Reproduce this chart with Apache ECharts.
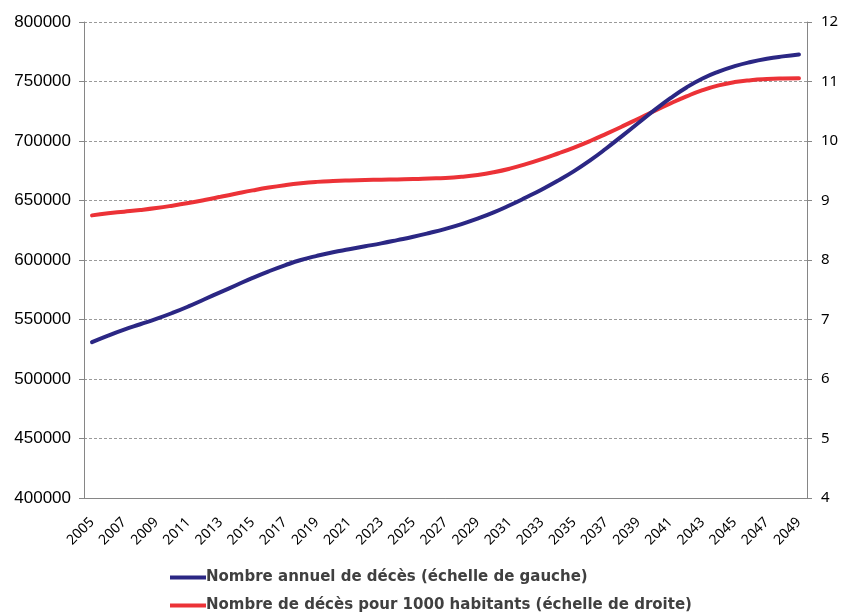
<!DOCTYPE html>
<html>
<head>
<meta charset="utf-8">
<script src="https://cdn.jsdelivr.net/npm/echarts@6/dist/echarts.min.js"></script>
<style>
  html, body { margin: 0; padding: 0; background: #fff; }
  #chart { width: 842px; height: 613px; }
</style>
</head>
<body>
<div id="chart"></div>
<script>
// Years 2005–2049
const years = [];
for (let y = 2005; y <= 2049; y++) years.push(String(y));

// Annual number of deaths (left scale)
const deaths = [
  531000, 536500, 541500, 546000, 550500, 555500, 561000, 567000, 573000, 579000,
  585000, 590500, 595500, 600000, 603500, 606500, 609000, 611500, 614000, 616700,
  619500, 622700, 626200, 630200, 634800, 640000, 646000, 652500, 659300, 666700,
  674700, 683700, 693700, 704300, 715100, 725900, 736000, 745000, 752500, 758300,
  762900, 766400, 769100, 771100, 772700
];

// Deaths per 1000 inhabitants (right scale)
const rate = [
  8.75, 8.785, 8.812, 8.84, 8.873, 8.913, 8.958, 9.008, 9.062, 9.117,
  9.17, 9.218, 9.258, 9.29, 9.313, 9.328, 9.338, 9.345, 9.35, 9.355,
  9.36, 9.37, 9.38, 9.40, 9.43, 9.475, 9.535, 9.61, 9.695, 9.79,
  9.89, 10.00, 10.12, 10.245, 10.375, 10.505, 10.63, 10.75, 10.855, 10.935,
  10.99, 11.022, 11.04, 11.05, 11.055
];

const seriesNames = [
  'Nombre annuel de décès (échelle de gauche)',
  'Nombre de décès pour 1000 habitants (échelle de droite)'
];

const blue = '#2B2784';
const red = '#EC3237';
const axisGrey = '#868686';

const legendText = {
  fontFamily: 'DejaVu Sans, sans-serif',
  fontWeight: 'bold',
  fontSize: 15,
  color: '#404040',
  padding: [0, 0, 0, -5]
};

function legendRow(name, top) {
  return {
    orient: 'horizontal',
    left: 165,
    top: top,
    itemWidth: 36,
    itemHeight: 4,
    icon: 'rect',
    textStyle: legendText,
    data: [name]
  };
}

const chart = echarts.init(document.getElementById('chart'), null, { renderer: 'canvas' });

chart.setOption({
  animation: false,
  backgroundColor: '#ffffff',
  grid: { left: 84, right: 35, top: 22, bottom: 115, containLabel: false },
  legend: [
    legendRow(seriesNames[0], 565),
    legendRow(seriesNames[1], 593)
  ],
  xAxis: {
    type: 'category',
    data: years,
    boundaryGap: true,
    axisLine: { lineStyle: { color: axisGrey, width: 1 } },
    axisTick: { interval: 1, length: 5, lineStyle: { color: axisGrey } },
    axisLabel: {
      interval: 1,
      rotate: 45,
      margin: 22,
      fontFamily: 'Noto Sans, sans-serif',
      fontSize: 14,
      color: '#000'
    },
    splitLine: { show: false }
  },
  yAxis: [
    {
      type: 'value',
      min: 400000,
      max: 800000,
      interval: 50000,
      position: 'left',
      axisLine: { show: true, lineStyle: { color: axisGrey } },
      axisTick: { show: true, length: 5, lineStyle: { color: axisGrey } },
      axisLabel: {
        margin: 13,
        fontFamily: 'Liberation Sans, Arial, sans-serif',
        fontSize: 17,
        color: '#000',
        formatter: (v) => String(v)
      },
      splitLine: { show: true, lineStyle: { color: '#9a9a9a', type: [3, 2], width: 1 } }
    },
    {
      type: 'value',
      min: 4,
      max: 12,
      interval: 1,
      position: 'right',
      axisLine: { show: true, lineStyle: { color: axisGrey } },
      axisTick: { show: true, length: 5, lineStyle: { color: axisGrey } },
      axisLabel: {
        margin: 14,
        fontFamily: 'Noto Sans, sans-serif',
        fontSize: 15,
        color: '#000'
      },
      splitLine: { show: false }
    }
  ],
  series: [
    {
      name: seriesNames[0],
      type: 'line',
      yAxisIndex: 0,
      data: deaths,
      smooth: true,
      symbol: 'none',
      lineStyle: { color: blue, width: 4, cap: 'round' },
      itemStyle: { color: blue },
      z: 3
    },
    {
      name: seriesNames[1],
      type: 'line',
      yAxisIndex: 1,
      data: rate,
      smooth: true,
      symbol: 'none',
      lineStyle: { color: red, width: 4, cap: 'round' },
      itemStyle: { color: red },
      z: 2
    }
  ]
});
</script>
</body>
</html>
